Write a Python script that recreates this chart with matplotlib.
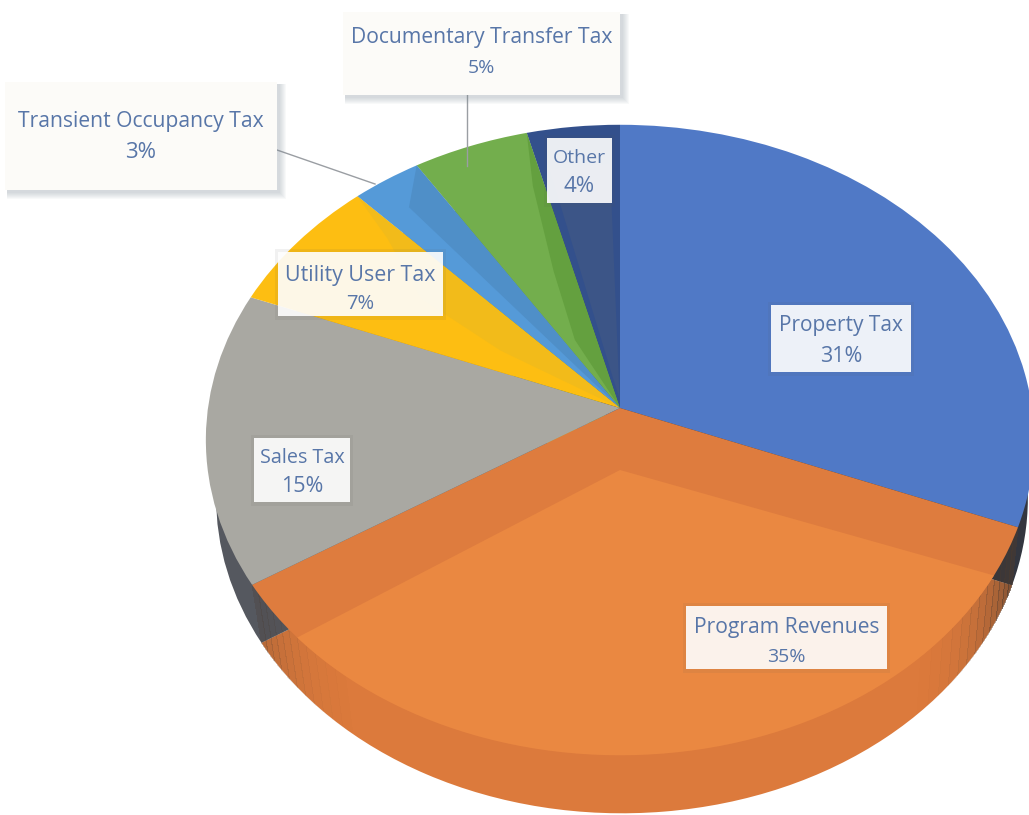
import numpy as np
from matplotlib import pyplot as plt
from matplotlib.patches import Rectangle
from matplotlib.transforms import Affine2D, Transform

labels = ["Property Tax", "Program Revenues", "Sales Tax", "Utility User Tax",
          "Transient Occupancy Tax", "Documentary Transfer Tax", "Other"]
values = [31, 35, 15, 7, 3, 5, 4]
top_colors = ["#5079c6", "#de7c3e", "#a9a8a2", "#fdbe12", "#559ad8", "#73ae4d", "#33508c"]
side_colors = ["#33363f", "#dc7a3c", "#55585f", "#c79510", "#3f74a4", "#568239", "#25396a"]

# label box left, top, right, bottom and the two text rows, in image pixels
boxes = [(771, 305, 911, 372, 324, 354), (686, 606, 887, 669, 625, 655),
         (254, 438, 350, 502, 456, 484), (278, 252, 443, 316, 273, 302),
         (5, 82, 277, 190, 120, 150), (343, 12, 620, 95, 36, 66),
         (547, 138, 612, 203, 156, 184)]
name_sizes = [15, 15.2, 14.2, 15.4, 15.2, 15.2, 14]
pct_sizes = [15.5, 14, 15.5, 14.5, 16, 14, 16]

# pie plane seen in perspective
CX, CY, SX, SY, K = 620, 408, 412, 312, 0.1016
DEPTH = 58


class Persp(Transform):
    input_dims = 2
    output_dims = 2

    def transform_non_affine(self, xy):
        xy = np.asarray(xy, dtype=float)
        w = 1 + K * xy[:, 1]
        return np.column_stack([CX + SX * xy[:, 0] / w, CY - SY * xy[:, 1] / w])


# the lower edge is a bit narrower than the top face
side_shift = Affine2D().translate(-CX, -CY).scale(0.98, 1).translate(CX + 2, CY + DEPTH)


def polar(frac, r=1.0):
    # frac is the share of the pie, clockwise from 12 o'clock
    a = np.radians(90 - 360 * frac)
    return r * np.cos(a), r * np.sin(a)


def shade(points, color):
    pts = Persp().transform_non_affine(np.array([polar(f, r) for f, r in points]))
    ax.fill(pts[:, 0], pts[:, 1], color=color, lw=0, zorder=3)


def side_band(f1, f2, alpha):
    fr = np.linspace(f1, f2, 12)
    upper = Persp().transform_non_affine(np.array([polar(f) for f in fr]))
    lower = side_shift.transform(upper)
    ax.fill(np.r_[upper[:, 0], lower[::-1, 0]], np.r_[upper[:, 1], lower[::-1, 1]],
            color="#4a3a30", alpha=alpha, lw=0, zorder=1.5, antialiased=False)


fig = plt.figure(figsize=(10.29, 8.15), dpi=100)
ax = fig.add_axes([0, 0, 1, 1])

# the side of the pie, then the top face on it
side, _ = ax.pie(values, colors=side_colors, startangle=90, counterclock=False, frame=True)
for w in side:
    w.set_transform(Persp() + side_shift + ax.transData)
    w.set_zorder(1)
    w.set_clip_on(False)
top, _ = ax.pie(values, colors=top_colors, startangle=90, counterclock=False, frame=True)
for w in top:
    w.set_transform(Persp() + ax.transData)
    w.set_zorder(2)
    w.set_clip_on(False)

ax.set_aspect("auto")
ax.set_xlim(0, 1029)
ax.set_ylim(815, 0)
ax.axis("off")

start = sum(values[:1]) / 100
end = sum(values[:2]) / 100

# side of the orange slice darkens towards both ends
for n in range(12):
    side_band(start + n * 0.006, start + (n + 1) * 0.006, 0.6 * (1 - n / 12) ** 2)
    side_band(end - (n + 1) * 0.005, end - n * 0.005, 0.25 * (1 - n / 12) ** 2)

# lighter inner face of the orange slice
fr = np.linspace(start + 0.025, end - 0.03, 60)
rim = Persp().transform_non_affine(np.array([polar(f) for f in fr]))
ax.fill(np.r_[rim[:, 0], CX], np.r_[rim[:, 1], CY + 62], color="#ea8841", lw=0, zorder=3)

# tone changes on the small slices
shade([(0.96, 1), (0.96, 0), (0.926, 0.25), (0.944, 0.49), (0.954, 0.8)], "#64a03f")
shade([(0.91, 1), (0.91, 0), (0.893, 0.88)], "#4f8fc8")
shade([(0.88, 1), (0.88, 0), (0.84, 0.35), (0.85, 0.62), (0.872, 0.83)], "#f2bb1a")
shade([(0.995, 0.85), (0.995, 0.03), (0.972, 0.1), (0.965, 0.85)], "#3c5587")

# leader lines
ax.plot([467, 467], [95, 166], color="#9a9ea3", lw=1, zorder=4)
ax.plot([277, 375], [150, 184], color="#9a9ea3", lw=1, zorder=4)

for i, (x0, y0, x1, y1, t1, t2) in enumerate(boxes):
    outside = i in (4, 5)
    if outside:
        for g in range(7, 0, -1):
            ax.add_patch(Rectangle((x0 + 2, y0 + 2), x1 - x0 + g, y1 - y0 + g, color="#7f8c99",
                                   alpha=0.05, lw=0, zorder=5))
    else:
        ax.add_patch(Rectangle((x0 - 3, y0 - 3), x1 - x0 + 6, y1 - y0 + 7, color="#555555",
                               alpha=0.08, lw=0, zorder=5))
    ax.add_patch(Rectangle((x0, y0), x1 - x0, y1 - y0, color="#fcfbf8" if outside else "white",
                           alpha=1 if outside else 0.9, lw=0, zorder=6))
    mid = (x0 + x1) / 2
    ax.text(mid, t1 + 2, labels[i], ha="center", va="center", color="#5876a8",
            fontsize=name_sizes[i], family="Open Sans", zorder=7)
    ax.text(mid, t2 + 2, str(values[i]) + "%", ha="center", va="center", color="#5876a8",
            fontsize=pct_sizes[i], family="Open Sans", zorder=7)

fig.savefig("out.png", dpi=100)
